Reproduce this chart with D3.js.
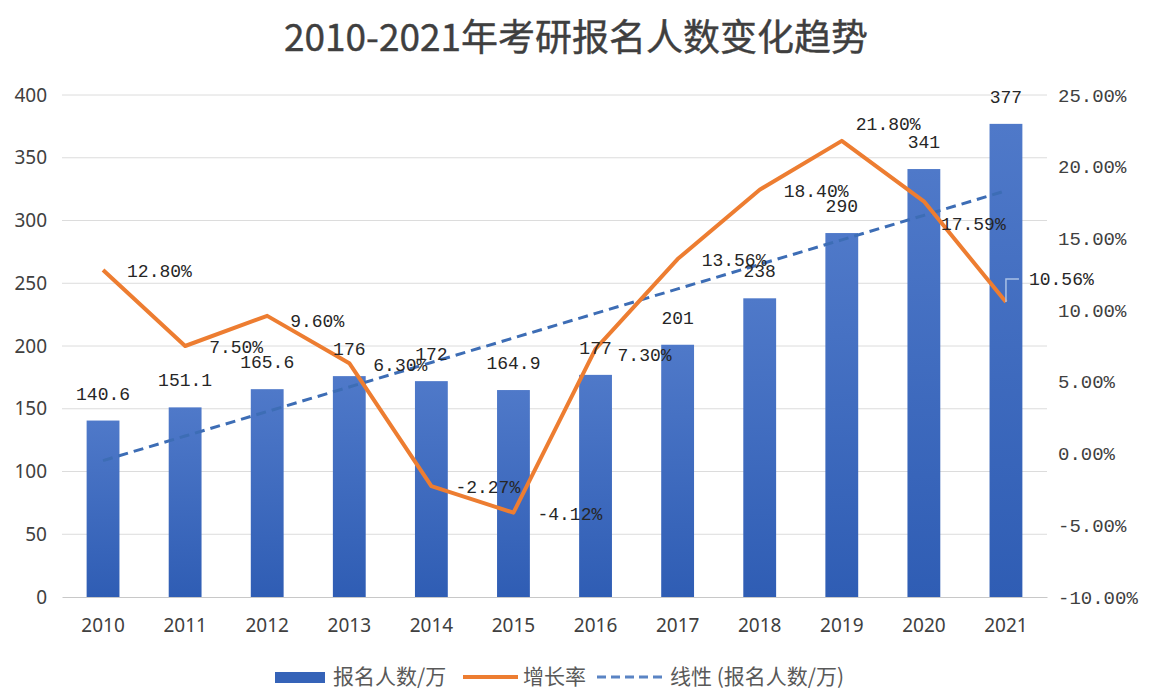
<!DOCTYPE html>
<html>
<head>
<meta charset="utf-8">
<script src="https://cdn.jsdelivr.net/npm/d3@7"></script>
<style>
  html, body { margin: 0; padding: 0; background: #fff; }
  svg { display: block; }
</style>
</head>
<body>
<svg id="chart" width="1154" height="698"></svg>
<script>
// ---------------- data ----------------
const years = ["2010","2011","2012","2013","2014","2015","2016","2017","2018","2019","2020","2021"];
const applicants = [140.6, 151.1, 165.6, 176, 172, 164.9, 177, 201, 238, 290, 341, 377];
const growthRate = [12.80, 7.50, 9.60, 6.30, -2.27, -4.12, 7.30, 13.56, 18.40, 21.80, 17.59, 10.56];
const leftTicks = [0, 50, 100, 150, 200, 250, 300, 350, 400];
const rightTicks = [-10, -5, 0, 5, 10, 15, 20, 25];
const title = "2010-2021年考研报名人数变化趋势";
const legendNames = ["报名人数/万", "增长率", "线性 (报名人数/万)"];

// ---------------- layout ----------------
const svg = d3.select("#chart");
const L = 62, R = 1047, T = 95, B = 597;

const x = d3.scaleBand().domain(years).range([L, R]).paddingInner(0.6).paddingOuter(0.3);
const yL = d3.scaleLinear().domain([0, 400]).range([B, T]);
const yR = d3.scaleLinear().domain([-10, 25]).range([B, T]);
const cx = d => x(d) + x.bandwidth() / 2;

const defs = svg.append("defs");
const grad = defs.append("linearGradient").attr("id", "barGrad").attr("x1", 0).attr("y1", 0).attr("x2", 0).attr("y2", 1);
grad.append("stop").attr("offset", "0%").attr("stop-color", "#4f79c9");
grad.append("stop").attr("offset", "100%").attr("stop-color", "#2f5db4");

// title
svg.append("text").attr("x", 576).attr("y", 51).attr("text-anchor", "middle")
  .style("font-family", "'Noto Sans CJK SC', sans-serif").style("font-weight", 400)
  .style("font-size", "37px").style("fill", "#3f3f3f").style("stroke", "#3f3f3f").style("stroke-width", 0.4)
  .text(title);

// gridlines
const grid = svg.append("g");
grid.selectAll("line").data(leftTicks.filter(t => t > 0)).join("line")
  .attr("x1", L).attr("x2", R).attr("y1", d => yL(d)).attr("y2", d => yL(d))
  .attr("stroke", "#dcdcdc").attr("stroke-width", 1);

// left axis
const axL = svg.append("g").attr("transform", `translate(${L},0)`)
  .call(d3.axisLeft(yL).tickValues(leftTicks).tickSize(0).tickPadding(15));
axL.select(".domain").remove();
axL.selectAll("text").style("font-family", "'Noto Sans', sans-serif").style("font-size", "19px").style("fill", "#404040");

// right axis
const axR = svg.append("g").attr("transform", `translate(${R},0)`)
  .call(d3.axisRight(yR).tickValues(rightTicks).tickSize(0).tickPadding(11).tickFormat(d => d.toFixed(2) + "%"));
axR.select(".domain").remove();
axR.selectAll("text").style("font-family", "'Liberation Mono', monospace").style("font-size", "19px").style("fill", "#404040");

// bars
svg.append("g").selectAll("rect").data(applicants).join("rect")
  .attr("x", (d, i) => x(years[i])).attr("width", x.bandwidth())
  .attr("y", d => yL(d)).attr("height", d => yL(0) - yL(d))
  .attr("fill", "url(#barGrad)");

// x axis
const axX = svg.append("g").attr("transform", `translate(0,${B})`)
  .call(d3.axisBottom(x).tickSize(0).tickPadding(22));
axX.select(".domain").attr("stroke", "#c8c8c8");
axX.selectAll("text").style("font-family", "'Noto Sans', sans-serif").style("font-size", "19px").style("fill", "#404040");

// linear trend (least squares on applicants)
const n = applicants.length;
const xm = d3.mean(d3.range(n)), ym = d3.mean(applicants);
const slope = d3.sum(applicants, (v, i) => (i - xm) * (v - ym)) / d3.sum(d3.range(n), i => (i - xm) ** 2);
const icpt = ym - slope * xm;
const trend = years.map((yr, i) => [cx(yr), yL(icpt + slope * i)]);
svg.append("path").attr("d", d3.line()(trend))
  .attr("fill", "none").attr("stroke", "#3d6db5").attr("stroke-width", 3).attr("stroke-dasharray", "10,6");

// growth rate line
const ratePts = years.map((yr, i) => [cx(yr), yR(growthRate[i])]);
svg.append("path").attr("d", d3.line()(ratePts))
  .attr("fill", "none").attr("stroke", "#ed7d31").attr("stroke-width", 4).attr("stroke-linejoin", "round");

// bar value labels
const labelFont = "'Liberation Mono', monospace";
svg.append("g").selectAll("text").data(applicants).join("text")
  .attr("x", (d, i) => cx(years[i])).attr("y", d => yL(d) - 21)
  .attr("text-anchor", "middle")
  .style("font-family", labelFont).style("font-size", "18px").style("fill", "#262626")
  .text(d => String(d));

// rate labels (right of points, some nudged as in the original)
const nudge = { "2012": [23, 5], "2016": [22, 6], "2019": [14, -17], "2020": [17, 22], "2021": [23, -23] };
svg.append("g").selectAll("text").data(growthRate).join("text")
  .attr("x", (d, i) => cx(years[i]) + (nudge[years[i]] ? nudge[years[i]][0] : 24))
  .attr("y", (d, i) => yR(d) + (nudge[years[i]] ? nudge[years[i]][1] : 1))
  .attr("dy", "0.35em")
  .style("font-family", labelFont).style("font-size", "18px").style("fill", "#262626")
  .text(d => d.toFixed(2) + "%");

// leader line for last label
const lp = ratePts[n - 1];
svg.append("path").attr("d", `M${lp[0]},${lp[1]} V${lp[1] - 23} H${lp[0] + 13}`)
  .attr("fill", "none").attr("stroke", "#a9c1e6").attr("stroke-width", 1.5);

// legend
const lg = svg.append("g");
const legY = 677;
lg.append("rect").attr("x", 275).attr("y", legY - 5).attr("width", 50).attr("height", 11).attr("fill", "#3563b8");
lg.append("text").attr("x", 333).attr("y", legY).attr("dy", "0.35em").text(legendNames[0]);
lg.append("line").attr("x1", 463).attr("x2", 518).attr("y1", legY).attr("y2", legY)
  .attr("stroke", "#ed7d31").attr("stroke-width", 4);
lg.append("text").attr("x", 523).attr("y", legY).attr("dy", "0.35em").text(legendNames[1]);
lg.append("line").attr("x1", 597).attr("x2", 665).attr("y1", legY).attr("y2", legY)
  .attr("stroke", "#5a84c4").attr("stroke-width", 3).attr("stroke-dasharray", "9,5");
lg.append("text").attr("x", 670).attr("y", legY).attr("dy", "0.35em").text(legendNames[2]);
lg.selectAll("text").style("font-family", "'Noto Sans CJK SC', sans-serif").style("font-size", "21px").style("fill", "#595959");
</script>
</body>
</html>
